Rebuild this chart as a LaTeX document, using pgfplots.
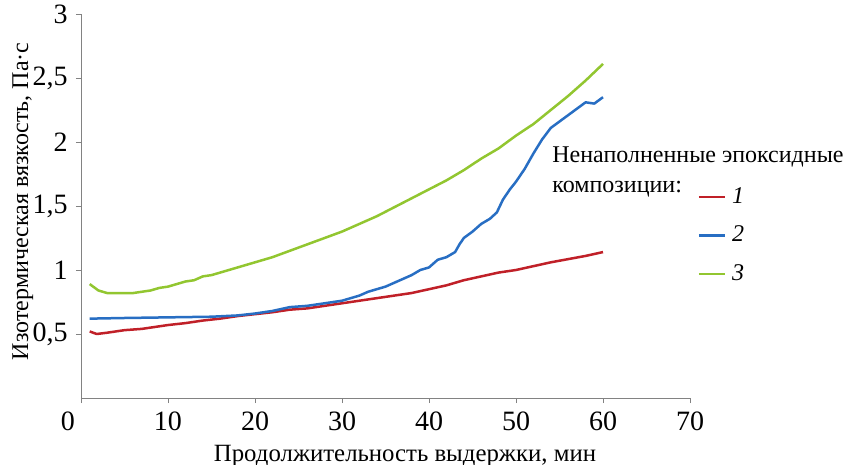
\documentclass[border=0pt]{standalone}
\usepackage{fontspec}
\setmainfont{Liberation Serif}
\usepackage{pgfplots}
\pgfplotsset{compat=1.18}
\definecolor{cred}{RGB}{192,32,40}
\definecolor{cblue}{RGB}{40,110,195}
\definecolor{cgreen}{RGB}{146,198,48}
\definecolor{axgray}{RGB}{130,130,130}
\begin{document}
\fontsize{12}{15}\selectfont
\begin{tikzpicture}
\useasboundingbox (-40.5pt,-33.5pt) rectangle (382pt,199pt);
\begin{axis}[
  at={(0,0)}, anchor=south west,
  scale only axis, width=304.5pt, height=192pt,
  xmin=0, xmax=70, ymin=0, ymax=3,
  axis x line*=bottom, axis y line*=left,
  axis line style={draw=axgray, -},
  xtick={10,20,...,70}, ytick={0.5,1,...,3},
  extra x ticks={0},
  extra x tick style={xticklabel style={xshift=-6.5pt}},
  tick align=outside, major tick length=2.5pt,
  tick style={draw=axgray},
  /pgf/number format/use comma,
  /pgf/number format/assume math mode=true,
  ticklabel style={font=\fontsize{14}{16}\selectfont},
  xlabel={Продолжительность выдержки, мин},
  ylabel={Изотермическая вязкость, Па·с},
  x label style={at={(axis description cs:0.532,-0.165)}, anchor=base, font=\fontsize{12.4}{15}\selectfont},
  y label style={at={(axis description cs:-0.087,0.512)}, anchor=base},
  legend style={at={(axis description cs:1.012,0.565)}, anchor=north west,
    draw=none, fill=none, font=\itshape, row sep=3.5pt, inner sep=0pt,
    nodes={inner sep=3pt}},
  legend cell align=left,
  legend image code/.code={\draw[#1] (0pt,0pt) -- (13pt,0pt);},
  every axis plot/.append style={line width=1.25pt, line join=round},
  clip=false,
]
\addplot[cred] coordinates {
(1,0.52) (1.8,0.50) (3,0.51) (5,0.53) (7,0.54) (10,0.57) (12,0.585) (14,0.605)
(16,0.62) (18,0.64) (20,0.655) (22,0.67) (24,0.69) (26,0.70) (28,0.72) (30,0.74)
(32,0.76) (34,0.78) (36,0.80) (38,0.82) (40,0.85) (42,0.88) (44,0.92) (46,0.95)
(48,0.98) (50,1.00) (52,1.03) (54,1.06) (56,1.085) (58,1.11) (60,1.14)};
\addlegendentry{1}
\addplot[cblue] coordinates {
(1,0.62) (5,0.625) (10,0.63) (15,0.635) (18,0.645) (20,0.66) (22,0.68) (24,0.71)
(26,0.72) (28,0.74) (30,0.76) (31,0.78) (32,0.80) (33,0.83) (34,0.85) (35,0.87)
(36,0.90) (37,0.93) (38,0.96) (39,1.00) (40,1.02) (41,1.08) (42,1.10) (43,1.14)
(43.5,1.20) (44,1.25) (45,1.30) (46,1.36) (47,1.40) (47.8,1.45) (48.5,1.55)
(49.3,1.63) (50,1.69) (51,1.79) (52,1.91) (53,2.02) (54,2.11) (55,2.16) (56,2.21)
(57,2.26) (58,2.31) (59,2.30) (60,2.35)};
\addlegendentry{2}
\addplot[cgreen] coordinates {
(1,0.89) (2,0.84) (3,0.82) (4,0.82) (5,0.82) (6,0.82) (7,0.83) (8,0.84) (9,0.86)
(10,0.87) (11,0.89) (12,0.91) (13,0.92) (14,0.95) (15,0.96) (16,0.98) (17,1.00)
(18,1.02) (19,1.04) (20,1.06) (22,1.10) (24,1.15) (26,1.20) (28,1.25) (30,1.30)
(32,1.36) (34,1.42) (36,1.49) (38,1.56) (40,1.63) (42,1.70) (44,1.78) (46,1.87)
(48,1.95) (50,2.05) (52,2.14) (54,2.25) (56,2.36) (58,2.48) (60,2.61)};
\addlegendentry{3}
\node[anchor=base west, inner sep=0pt] at (axis description cs:0.7734,0.612) {Ненаполненные эпоксидные};
\node[anchor=base west, inner sep=0pt] at (axis description cs:0.7734,0.536) {композиции:};
\end{axis}
\end{tikzpicture}
\end{document}
